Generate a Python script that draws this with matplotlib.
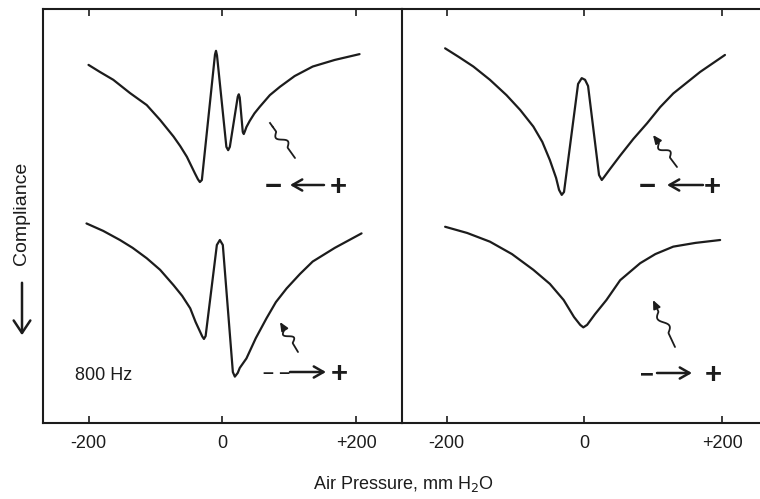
import matplotlib
matplotlib.use("Agg")
import matplotlib.pyplot as plt
import numpy as np

plt.rcParams['font.family'] = ['Liberation Sans', 'DejaVu Sans']

# ---- data (air pressure, mm H2O  vs  compliance, arbitrary units) ----
tl_p = [-200, -183, -163, -138, -113, -93, -73, -63, -53, -47, -41, -36.6, -33.6, -30.6,
        -11, -9.5, -8, 6, 8.7, 11.2, 23, 24.6, 26, 30.5, 32, 34, 36, 41, 48, 56, 71, 86, 108, 135, 168, 205]
tl_c = [86.5, 84.8, 82.9, 79.7, 76.8, 73.2, 69.2, 66.9, 64.3, 62.3, 60.3, 58.9, 58.2, 58.7,
        89.0, 89.9, 88.8, 66.7, 65.9, 66.7, 78.8, 79.4, 78.6, 70.3, 69.8, 70.6, 71.5, 73.0, 74.8, 76.4, 79.2, 81.2, 83.8, 86.1, 87.7, 89.1]

bl_p = [-203, -178, -153, -134, -113, -93, -73, -60, -48, -40, -34, -30, -27.5, -25,
        -8.2, -3.7, 0.7, 15.7, 18.7, 23, 26, 36, 50, 66, 80, 96, 116, 135, 168, 208]
bl_c = [48.2, 46.4, 44.2, 42.3, 39.8, 37.0, 33.3, 30.7, 27.7, 24.4, 22.3, 20.9, 20.3, 21.0,
        43.0, 44.2, 43.0, 12.3, 11.2, 12.1, 13.3, 15.6, 20.5, 25.3, 29.2, 32.5, 36.0, 39.0, 42.3, 45.8]

tr_p = [-202, -182, -161, -137, -113, -93, -74, -61, -50, -41, -36.7, -32.8, -29.5,
        -9.1, -3.8, 1, 5.4, 21.3, 25.3, 28.6, 37, 52, 71, 91, 110, 129, 168, 204]
tr_c = [90.5, 88.4, 86.1, 82.9, 79.2, 75.6, 71.6, 67.9, 63.5, 59.2, 56.3, 55.1, 55.8,
        81.9, 83.3, 82.9, 81.4, 59.9, 58.7, 59.4, 61.3, 64.6, 68.6, 72.4, 76.3, 79.6, 84.8, 88.9]

br_p = [-202, -170, -137, -105, -74, -50, -30, -15, -6, -1.5, 4, 15.5, 32, 52, 81, 103, 129, 161, 197]
br_c = [47.4, 45.9, 43.8, 40.8, 37.0, 33.6, 29.7, 25.6, 23.7, 23.1, 23.7, 26.3, 29.7, 34.5, 38.6, 40.8, 42.6, 43.5, 44.2]

ticks = [-200, 0, 200]
tick_labels = ['-200', '0', '+200']

W, H = 760, 499
fig = plt.figure(figsize=(W / 100, H / 100), dpi=100)

ink = '#1c1c1c'
lw_curve = 1.6
lw_spine = 1.5


def px_ax(x0, x1, y0, y1):
    return [x0 / W, 1 - y1 / H, (x1 - x0) / W, (y1 - y0) / H]


axL = fig.add_axes(px_ax(43, 401.7, 9, 423))
axR = fig.add_axes(px_ax(401.7, 767, 9, 423))

axL.set_xlim(-268, 268)
axR.set_xlim(-265, 265)
for ax in (axL, axR):
    ax.set_ylim(0, 100)
    ax.set_yticks([])
    ax.set_xticks(ticks)
    ax.set_xticklabels(tick_labels)
    ax.tick_params(axis='x', which='both', direction='in', top=True, bottom=True,
                   length=5, width=1.2, color=ink, labelsize=13, pad=9,
                   labelcolor=ink)
    for s in ax.spines.values():
        s.set_linewidth(lw_spine)
        s.set_color(ink)
    ax.patch.set_alpha(0)

axL.spines['right'].set_visible(False)
axR.spines['right'].set_visible(False)

kw = dict(color=ink, lw=lw_curve, solid_joinstyle='round', solid_capstyle='round')
axL.plot(tl_p, tl_c, **kw)
axL.plot(bl_p, bl_c, **kw)
axR.plot(tr_p, tr_c, **kw)
axR.plot(br_p, br_c, **kw)


def fy(py):
    return (423 - py) / 414


def sym(ax, left, width, xc, y, s, size=21):
    ax.text((xc - left) / width, fy(y), s, transform=ax.transAxes, ha='center',
            va='center_baseline', fontsize=size, color=ink, fontweight='bold')


def arrow(ax, left, width, x0, x1, y):
    ax.annotate('', xy=((x1 - left) / width, fy(y)), xytext=((x0 - left) / width, fy(y)),
                xycoords=ax.transAxes, textcoords=ax.transAxes,
                arrowprops=dict(arrowstyle='->,head_length=0.7,head_width=0.4',
                                lw=1.8, color=ink, shrinkA=0, shrinkB=0))

LL, LW = 43, 358.7
RL, RW = 401.7, 365.3

# top-left: - <-- +
sym(axL, LL, LW, 273.5, 184, '−')
arrow(axL, LL, LW, 324, 290, 185)
sym(axL, LL, LW, 338.5, 184, '+')
# bottom-left: - - --> +
sym(axL, LL, LW, 277, 371, '– –', size=14)
arrow(axL, LL, LW, 290, 326, 372)
sym(axL, LL, LW, 339, 371, '+')
# top-right
sym(axR, RL, RW, 647, 184, '−')
arrow(axR, RL, RW, 703, 667, 185)
sym(axR, RL, RW, 712, 184, '+')
# bottom-right
sym(axR, RL, RW, 646.5, 372, '−', size=17)
arrow(axR, RL, RW, 657, 692, 373)
sym(axR, RL, RW, 713, 372, '+')


# ---- small squiggle arrows ----
def squiggle(ax, left, width, tail, head, arrow_head=True):
    (x0, y0), (x1, y1) = tail, head
    dx, dy = x1 - x0, y1 - y0
    L = np.hypot(dx, dy)
    nx, ny = -dy / L, dx / L
    t = np.linspace(0, 1, 60)
    off = np.where((t > 0.3) & (t < 0.75), 4.0 * np.sin(2 * np.pi * (t - 0.3) / 0.45), 0)
    xs = x0 + t * dx + off * nx
    ys = y0 + t * dy + off * ny
    fxs = (xs - left) / width
    fys = fy(ys)
    ax.plot(fxs[:-6], fys[:-6], transform=ax.transAxes, color=ink, lw=1.3,
            solid_joinstyle='round', solid_capstyle='round')
    if arrow_head:
        ax.annotate('', xy=(fxs[-1], fys[-1]), xytext=(fxs[-8], fys[-8]),
                    xycoords=ax.transAxes, textcoords=ax.transAxes,
                    arrowprops=dict(arrowstyle='-|>,head_length=0.5,head_width=0.22',
                                    lw=1.3, color=ink, shrinkA=0, shrinkB=0))
    else:
        ax.plot(fxs[-7:], fys[-7:], transform=ax.transAxes, color=ink, lw=1.3)

squiggle(axL, LL, LW, (295, 158), (270, 123), arrow_head=False)
squiggle(axL, LL, LW, (298, 352), (280, 322))
squiggle(axR, RL, RW, (677, 167), (653, 135))
squiggle(axR, RL, RW, (675, 347), (653, 300))

# ---- labels ----
axL.text((75 - LL) / LW, fy(376), '800 Hz', transform=axL.transAxes,
         ha='left', va='center', fontsize=13, color=ink)

fig.text(22 / W, 1 - 213 / H, 'Compliance', rotation=90, ha='center', va='center',
         fontsize=14, color=ink)
fig.add_artist(matplotlib.patches.FancyArrowPatch(
    (22 / W, 1 - 280 / H), (22 / W, 1 - 338 / H), transform=fig.transFigure,
    arrowstyle='->,head_length=6,head_width=4', lw=1.8, color=ink,
    mutation_scale=1.5))

fig.text(403 / W, 1 - 484 / H, 'Air Pressure, mm H$_2$O', ha='center', va='center',
         fontsize=13, color=ink)

fig.savefig('out.png', dpi=100, facecolor='white')
